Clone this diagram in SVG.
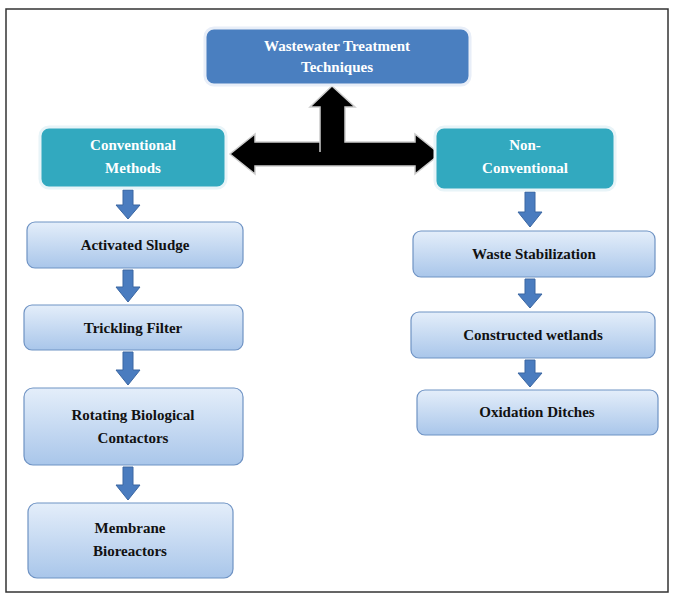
<svg xmlns="http://www.w3.org/2000/svg" width="678" height="600" viewBox="0 0 678 600">
<defs>
<linearGradient id="lg" x1="0" y1="0" x2="0" y2="1"><stop offset="0" stop-color="#e4eefa"/><stop offset="1" stop-color="#a9c6ea"/></linearGradient>
<style>
.top{fill:#4a7fc0;stroke:#e8eef8;stroke-width:3}
.teal{fill:#32a9bf;stroke:#e8f4f8;stroke-width:3}
.lt{fill:url(#lg);stroke:#6f93c4;stroke-width:1.2}
text{font-family:"Liberation Serif",serif;font-weight:bold;text-anchor:middle}
.w{fill:#fff;font-size:15px}
.k{fill:#111;font-size:15px}
.ba{fill:#4a7cbf;stroke:#3a66a2;stroke-width:1}
</style>
</defs>
<rect width="678" height="600" fill="#fff"/>
<rect x="6" y="9" width="662" height="583" fill="none" stroke="#333" stroke-width="1.5"/>
<g id="connectors">
<path d="M320,152 L320,107 L310,107 L332,86 L355,107 L345,107 L345,142 L415,142 L415,134 L440,154 L415,174 L415,166 L255,166 L255,174 L230,154 L255,134 L255,142 L320,142 Z" fill="#000" stroke="#ccc" stroke-width="1.5"/>
<path class="ba" d="M123,190 h10 v15 h7 l-12,14 l-12,-14 h7 z"/>
<path class="ba" d="M123,270 h10 v17 h7 l-12,15 l-12,-15 h7 z"/>
<path class="ba" d="M123,352 h10 v18 h7 l-12,15 l-12,-15 h7 z"/>
<path class="ba" d="M123,467 h10 v18 h7 l-12,15 l-12,-15 h7 z"/>
<path class="ba" d="M525,192 h10 v20 h7 l-12,15 l-12,-15 h7 z"/>
<path class="ba" d="M525,279 h10 v15 h7 l-12,14 l-12,-14 h7 z"/>
<path class="ba" d="M525,360 h10 v13 h7 l-12,14 l-12,-14 h7 z"/>
</g>
<g id="n-top"><rect class="top" x="205" y="28" width="265" height="57" rx="9"/><text class="w" x="337" y="51">Wastewater Treatment</text><text class="w" x="337" y="72">Techniques</text></g>
<g id="n-conv"><rect class="teal" x="40" y="127" width="186" height="61" rx="9"/><text class="w" x="133" y="150">Conventional</text><text class="w" x="133" y="173">Methods</text></g>
<g id="n-nonconv"><rect class="teal" x="435" y="127" width="180" height="63" rx="9"/><text class="w" x="525" y="150">Non-</text><text class="w" x="525" y="173">Conventional</text></g>
<g id="n-as"><rect class="lt" x="27" y="222" width="216" height="46" rx="8"/><text class="k" x="135" y="250">Activated Sludge</text></g>
<g id="n-tf"><rect class="lt" x="24" y="305" width="219" height="45" rx="8"/><text class="k" x="133" y="333">Trickling Filter</text></g>
<g id="n-rbc"><rect class="lt" x="24" y="388" width="219" height="77" rx="9"/><text class="k" x="133" y="420">Rotating Biological</text><text class="k" x="133" y="443">Contactors</text></g>
<g id="n-mb"><rect class="lt" x="28" y="503" width="205" height="75" rx="9"/><text class="k" x="130" y="533">Membrane</text><text class="k" x="130" y="556">Bioreactors</text></g>
<g id="n-ws"><rect class="lt" x="413" y="231" width="242" height="46" rx="8"/><text class="k" x="534" y="259">Waste Stabilization</text></g>
<g id="n-cw"><rect class="lt" x="411" y="312" width="244" height="46" rx="8"/><text class="k" x="533" y="340">Constructed wetlands</text></g>
<g id="n-od"><rect class="lt" x="417" y="390" width="241" height="45" rx="8"/><text class="k" x="537" y="417">Oxidation Ditches</text></g>
</svg>
